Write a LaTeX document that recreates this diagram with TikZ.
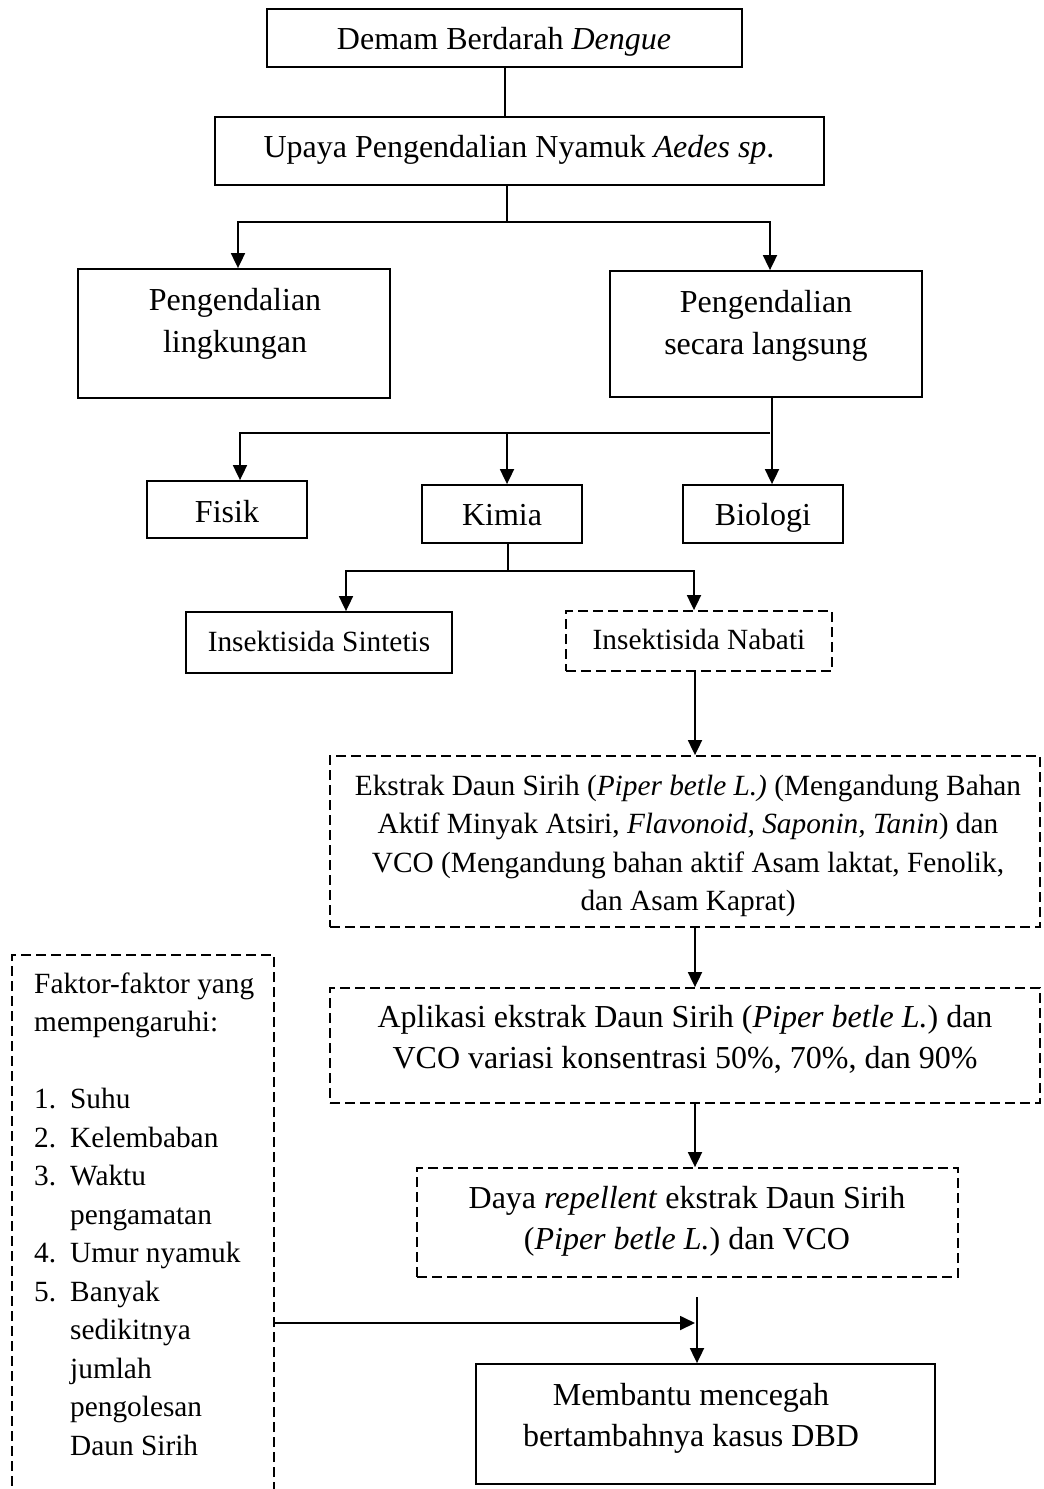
\documentclass[tikz,border=0pt]{standalone}
\usepackage{fontspec}
\setmainfont{Liberation Serif}
\usetikzlibrary{arrows.meta,calc}
\begin{document}
\begin{tikzpicture}[x=1pt,y=-1pt,
  box/.style={draw=black,line width=1.8pt,rectangle,inner sep=0pt},
  dbox/.style={box,dash pattern=on 10pt off 5pt},
  big/.style={font=\fontsize{32}{41}\selectfont,inner sep=0pt,align=center},
  small/.style={font=\fontsize{29.33}{38.5}\selectfont,inner sep=0pt,align=center},
  ln/.style={line width=1.8pt},
  arr/.style={line width=1.8pt,-{Triangle[length=15pt,width=14pt]}}]
\useasboundingbox (0,0) rectangle (1044,1489);
% boxes
\node[box,minimum width=475pt,minimum height=58pt] (n1) at (504.5,38) {};
\node[box,minimum width=609pt,minimum height=68pt] (n2) at (519.5,151) {};
\node[box,minimum width=312pt,minimum height=129pt] (n3) at (234,333.5) {};
\node[box,minimum width=312pt,minimum height=126pt] (n4) at (766,334) {};
\node[box,minimum width=160pt,minimum height=57pt] (fis) at (227,509.5) {};
\node[box,minimum width=160pt,minimum height=58pt] (kim) at (502,514) {};
\node[box,minimum width=160pt,minimum height=58pt] (bio) at (763,514) {};
\node[box,minimum width=266pt,minimum height=61pt] (sin) at (319,642.5) {};
\node[dbox,minimum width=266pt,minimum height=60pt] (nab) at (699,641) {};
\node[dbox,minimum width=710pt,minimum height=171pt] (eks) at (685,841.5) {};
\node[dbox,minimum width=710pt,minimum height=115pt] (apl) at (685,1045.5) {};
\node[dbox,minimum width=541pt,minimum height=109pt] (day) at (687.5,1222.5) {};
\node[box,minimum width=459pt,minimum height=120pt] (mem) at (705.5,1424) {};
\node[dbox,minimum width=262pt,minimum height=560pt] (fbox) at (143,1235) {};
% texts (anchor=base is the baseline of the last line)
\node[big,anchor=base] (t1) at (504,49) {Demam Berdarah \textit{Dengue}};
\node[big,anchor=base] (t2) at (519,157) {Upaya Pengendalian Nyamuk \textit{Aedes sp}.};
\node[big,anchor=base,font=\fontsize{32}{42}\selectfont] (t3) at (235,352) {Pengendalian\\lingkungan};
\node[big,anchor=base,font=\fontsize{32}{42}\selectfont] (t4) at (766,354) {Pengendalian\\secara langsung};
\node[big,anchor=base] (tfis) at (227,522) {Fisik};
\node[big,anchor=base] (tkim) at (502,525) {Kimia};
\node[big,anchor=base] (tbio) at (763,525) {Biologi};
\node[small,anchor=base] (tsin) at (319,651) {Insektisida Sintetis};
\node[small,anchor=base] (tnab) at (699,649) {Insektisida Nabati};
\node[small,anchor=base] (teks) at (688,910.5) {Ekstrak Daun Sirih (\textit{Piper betle L.)} (Mengandung Bahan\\
Aktif Minyak Atsiri, \textit{Flavonoid, Saponin, Tanin}) dan\\
VCO (Mengandung bahan aktif Asam laktat, Fenolik,\\
dan Asam Kaprat)};
\node[big,anchor=base] (tapl) at (685,1068) {Aplikasi ekstrak Daun Sirih (\textit{Piper betle L.}) dan\\
VCO variasi konsentrasi 50\%, 70\%, dan 90\%};
\node[big,anchor=base] (tday) at (687,1249) {Daya \textit{repellent} ekstrak Daun Sirih\\
(\textit{Piper betle L.}) dan VCO};
\node[big,anchor=base] (tmem) at (691,1446) {Membantu mencegah\\bertambahnya kasus DBD};
\node[small,align=left,anchor=base west] (tfk) at (34,1455) {Faktor-faktor yang\\
mempengaruhi:\\[38.5pt]
\makebox[36pt][l]{1.}Suhu\\
\makebox[36pt][l]{2.}Kelembaban\\
\makebox[36pt][l]{3.}Waktu\\
\hspace*{36pt}pengamatan\\
\makebox[36pt][l]{4.}Umur nyamuk\\
\makebox[36pt][l]{5.}Banyak\\
\hspace*{36pt}sedikitnya\\
\hspace*{36pt}jumlah\\
\hspace*{36pt}pengolesan\\
\hspace*{36pt}Daun Sirih};
% connectors
\draw[ln] ([xshift=0.5pt]n1.south) -- ([xshift=0.5pt]n1.south |- n2.north);
\coordinate (j1) at (507,222);
\draw[ln] (j1 |- n2.south) -- (j1);
\draw[arr] (j1) -| ([xshift=4pt]n3.north);
\draw[arr] (j1) -| ([xshift=4pt]n4.north);
\draw[arr] ([xshift=6pt]n4.south) -- ([xshift=9pt]bio.north);
\coordinate (j2) at (770,433);
\draw[arr] (j2) -| ([xshift=13pt]fis.north);
\draw[arr] ([xshift=5pt]kim.north |- j2) -- ([xshift=5pt]kim.north);
\coordinate (j3) at (508,571);
\draw[ln] ([xshift=6pt]kim.south) -- (j3);
\draw[arr] (j3) -| ([xshift=27pt]sin.north);
\draw[arr] (j3) -| ([xshift=-5pt]nab.north);
\coordinate (ax) at (695,0);
\draw[arr] (ax |- nab.south) -- (ax |- eks.north);
\draw[arr] (ax |- eks.south) -- (ax |- apl.north);
\draw[arr] (ax |- apl.south) -- (ax |- day.north);
\coordinate (top5) at (697,1297);
\draw[arr] (top5) -- (top5 |- mem.north);
\coordinate (hy) at (0,1323);
\draw[arr,shorten >=2pt] (fbox.east |- hy) -- (top5 |- hy);
\end{tikzpicture}
\end{document}
